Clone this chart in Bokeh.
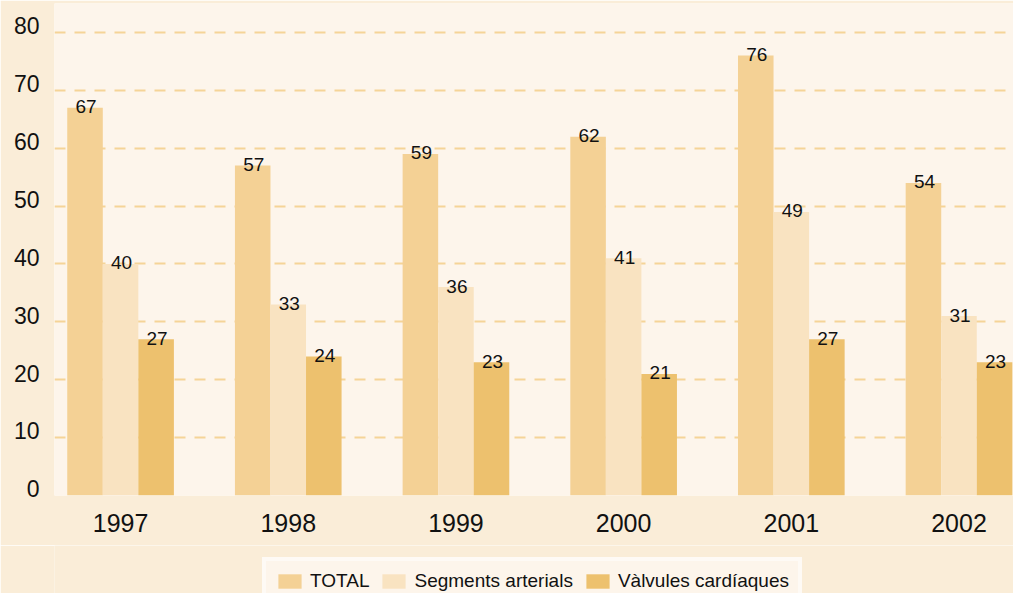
from bokeh.plotting import figure
from bokeh.layouts import column
from bokeh.models import ColumnDataSource, FixedTicker, Legend, LegendItem, Range1d, LinearAxis
from bokeh.embed import file_html
from bokeh.resources import INLINE
from bokeh.core.properties import value

# Data
years = ["1997", "1998", "1999", "2000", "2001", "2002"]
total = [67, 57, 59, 62, 76, 54]
segments = [40, 33, 36, 41, 49, 31]
valvules = [27, 24, 23, 21, 27, 23]
series_names = ["TOTAL", "Segments arterials", "Vàlvules cardíaques"]
y_ticks = [0, 10, 20, 30, 40, 50, 60, 70, 80]

colors = ["#f4d195", "#f9e3c1", "#edc16e"]
plot_bg = "#fdf5eb"
outer_bg = "#faedd8"
font = "Liberation Sans"

idx = list(range(len(years)))
bar_w = 0.212
offsets = [-bar_w, 0.0, bar_w]
y_max = 85

# ---- main chart ----
p = figure(width=1013, height=545, output_backend="svg", toolbar_location=None,
           x_range=Range1d(-0.394, 5.325), y_range=Range1d(0, y_max))
p.min_border_left = 54
p.min_border_right = 0
p.min_border_top = 3
p.min_border_bottom = 50
p.background_fill_color = plot_bg
p.border_fill_color = outer_bg
p.outline_line_color = None

for vals, off, col in zip([total, segments, valvules], offsets, colors):
    src = ColumnDataSource(dict(x=[i + off for i in idx], top=vals,
                                lbl=[str(v) for v in vals]))
    p.vbar(x="x", top="top", bottom=0, width=bar_w, source=src,
           fill_color=col, line_color=None)
    p.text(x="x", y="top", text="lbl", source=src, text_align="center",
           text_baseline="alphabetic", x_offset=1, y_offset=-1, text_font=value(font),
           text_font_size="19px", text_color="#111111")

# X axis: years under each group
p.xaxis.ticker = FixedTicker(ticks=idx)
p.xaxis.major_label_overrides = {i: y for i, y in zip(idx, years)}
p.xaxis.major_label_text_font_size = "25px"
p.xaxis.major_label_standoff = 12

# Y axis: the main one only drives the grid; tick labels sit on their lines
p.yaxis.ticker = FixedTicker(ticks=y_ticks)
p.yaxis.visible = False
lift = 1.15
p.extra_y_ranges = {"ticklabels": Range1d(-lift, y_max - lift)}
yax = LinearAxis(y_range_name="ticklabels", ticker=FixedTicker(ticks=y_ticks))
yax.major_label_text_font_size = "23px"
yax.major_label_standoff = 9
p.add_layout(yax, "left")

for ax in (p.xaxis[0], yax):
    ax.axis_line_color = None
    ax.major_tick_line_color = None
    ax.minor_tick_line_color = None
    ax.major_label_text_font = font
    ax.major_label_text_color = "#111111"

# Grid
p.xgrid.grid_line_color = None
p.ygrid.grid_line_color = "#f5d497"
p.ygrid.grid_line_width = 2
p.ygrid.grid_line_dash = "11 9"

# ---- legend strip ----
leg = figure(width=1013, height=48, output_backend="svg", toolbar_location=None,
             x_range=Range1d(0, 1), y_range=Range1d(0, 1),
             x_axis_location=None, y_axis_location=None)
leg.min_border_left = 54
leg.min_border_right = 0
leg.min_border_top = 0
leg.min_border_bottom = 0
leg.background_fill_color = outer_bg
leg.border_fill_color = outer_bg
leg.outline_line_color = None
leg.grid.visible = False

# zero-height bars: they only supply the legend swatches
swatches = []
for col in colors:
    swatches.append(leg.vbar(x=[0.5], top=[0], bottom=0, width=0.1,
                             fill_color=col, line_color=None))

legend = Legend(items=[LegendItem(label=n, renderers=[r]) for n, r in zip(series_names, swatches)],
                orientation="horizontal", location=(208, -12),
                glyph_width=29, glyph_height=18, label_standoff=6, spacing=10,
                padding=9, margin=0,
                label_text_font=font, label_text_font_size="19px",
                label_text_color="#111111",
                background_fill_color=plot_bg, background_fill_alpha=1,
                border_line_color="white", border_line_width=4)
leg.add_layout(legend, "center")

layout = column(p, leg, spacing=0)
open("out.html", "w").write(file_html(layout, INLINE))
